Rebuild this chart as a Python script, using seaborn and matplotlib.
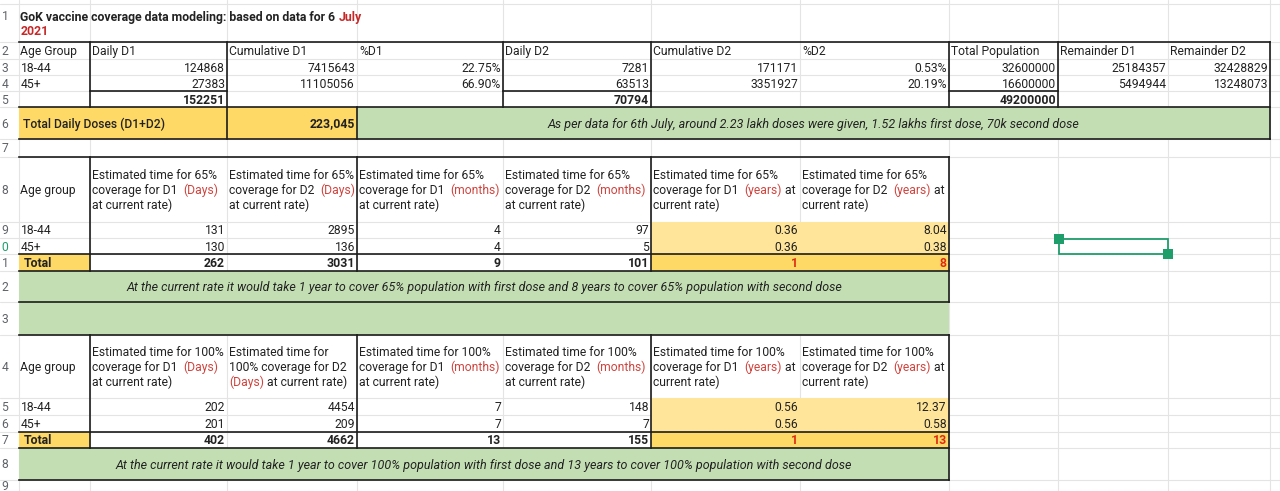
import matplotlib
matplotlib.use("Agg")
import matplotlib.pyplot as plt
from matplotlib.patches import Rectangle
import seaborn as sns

# ------------------------------------------------------------------ data
title_main = "GoK vaccine coverage data modeling: based on data for 6 "
title_month = "July"
title_year = "2021"

table1_headers = ["Age Group", "Daily D1", "Cumulative D1", "%D1", "Daily D2",
                  "Cumulative D2", "%D2", "Total Population", "Remainder D1", "Remainder D2"]
age_groups = ["18-44", "45+"]
daily_d1 = [124868, 27383]
cumulative_d1 = [7415643, 11105056]
pct_d1 = [22.75, 66.90]
daily_d2 = [7281, 63513]
cumulative_d2 = [171171, 3351927]
pct_d2 = [0.53, 20.19]
total_population = [32600000, 16600000]
remainder_d1 = [25184357, 5494944]
remainder_d2 = [32428829, 13248073]
daily_d1_total = 152251
daily_d2_total = 70794
population_total = 49200000
total_daily_label = "Total Daily Doses (D1+D2)"
total_daily_doses = "223,045"
note_daily = "As per data for 6th July, around 2.23 lakh doses were given, 1.52 lakhs first dose, 70k second dose"

group_label = "Age group"
total_label = "Total"

days_d1_65 = [131, 130]
days_d2_65 = [2895, 136]
months_d1_65 = [4, 4]
months_d2_65 = [97, 5]
years_d1_65 = [0.36, 0.36]
years_d2_65 = [8.04, 0.38]
totals_65 = [262, 3031, 9, 101, 1, 8]
note_65 = ("At the current rate it would take 1 year to cover 65% population with first dose "
           "and 8 years to cover 65% population with second dose")

days_d1_100 = [202, 201]
days_d2_100 = [4454, 209]
months_d1_100 = [7, 7]
months_d2_100 = [148, 7]
years_d1_100 = [0.56, 0.56]
years_d2_100 = [12.37, 0.58]
totals_100 = [402, 4662, 13, 155, 1, 13]
note_100 = ("At the current rate it would take 1 year to cover 100% population with first dose "
            "and 13 years to cover 100% population with second dose")

# header lines: list of lines, each a list of (text, is_red)
headers_65 = [
    [[("Estimated time for 65%", 0)], [("coverage for D1  ", 0), ("(Days)", 1)], [("at current rate)", 0)]],
    [[("Estimated time for 65%", 0)], [("coverage for D2  ", 0), ("(Days)", 1)], [("at current rate)", 0)]],
    [[("Estimated time for 65%", 0)], [("coverage for D1  ", 0), ("(months)", 1)], [("at current rate)", 0)]],
    [[("Estimated time for 65%", 0)], [("coverage for D2  ", 0), ("(months)", 1)], [("at current rate)", 0)]],
    [[("Estimated time for 65%", 0)], [("coverage for D1  ", 0), ("(years)", 1), (" at", 0)], [("current rate)", 0)]],
    [[("Estimated time for 65%", 0)], [("coverage for D2  ", 0), ("(years)", 1), (" at", 0)], [("current rate)", 0)]],
]
headers_100 = [
    [[("Estimated time for 100%", 0)], [("coverage for D1  ", 0), ("(Days)", 1)], [("at current rate)", 0)]],
    [[("Estimated time for", 0)], [("100% coverage for D2", 0)], [("(Days)", 1), (" at current rate)", 0)]],
    [[("Estimated time for 100%", 0)], [("coverage for D1  ", 0), ("(months)", 1)], [("at current rate)", 0)]],
    [[("Estimated time for 100%", 0)], [("coverage for D2  ", 0), ("(months)", 1)], [("at current rate)", 0)]],
    [[("Estimated time for 100%", 0)], [("coverage for D1  ", 0), ("(years)", 1), (" at", 0)], [("current rate)", 0)]],
    [[("Estimated time for 100%", 0)], [("coverage for D2  ", 0), ("(years)", 1), (" at", 0)], [("current rate)", 0)]],
]

# ------------------------------------------------------------------ style
sns.set_theme(style="white")
plt.rcParams['font.family'] = ['Roboto', 'DejaVu Sans']
FS = 8.7          # regular text
FS_B = 8.8        # bold text
FS_I = 9.0        # italic notes
TXT = "#222222"
RED_HDR = "#d0443e"
RED_TOT = "#dd2c12"
RED_TITLE = "#c62828"
GRID = "#e4e4e4"
BORDER = "#1c1c1c"
YELLOW = "#ffd966"
LYELLOW = "#ffe599"
GREEN = "#c3deb3"
SEL = "#1f9e6c"

fig = plt.figure(figsize=(12.8, 4.91), dpi=100)
ax = fig.add_axes([0, 0, 1, 1])
ax.set_xlim(0, 1280)
ax.set_ylim(491, 0)
ax.axis('off')
renderer = fig.canvas.get_renderer()

ORDER = "ABCDEFGHIJKL"
COLS = dict(A=19, B=90, C=227, D=357, E=503, F=651, G=800, H=949, I=1058, J=1168, K=1270, L=1280)
ROWS = {1: 4, 2: 42, 3: 59, 4: 75, 5: 91, 6: 107, 7: 139, 8: 157, 9: 222, 10: 238,
        11: 254, 12: 271, 13: 302, 14: 335, 15: 398, 16: 415, 17: 432, 18: 448, 19: 480, 20: 497}


def cl(c):
    return COLS[c]


def cr(c):
    return COLS[ORDER[ORDER.index(c) + 1]]


def rt(r):
    return ROWS[r]


def rb(r):
    return ROWS[r + 1]


def base(r, dy=0):
    return (rt(r) + rb(r)) / 2 + 4.5 + dy


def size_for(weight, style):
    if style == "italic":
        return FS_I
    if weight == "bold":
        return FS_B
    return FS


def text_w(s, weight="normal"):
    fs = size_for(weight, "normal")
    t1 = ax.text(0, 0, s + "|", fontsize=fs, fontweight=weight)
    w1 = t1.get_window_extent(renderer).width
    t1.remove()
    t2 = ax.text(0, 0, "|", fontsize=fs, fontweight=weight)
    w2 = t2.get_window_extent(renderer).width
    t2.remove()
    return w1 - w2


def rich(x, y, segs, weight="normal"):
    for s, col in segs:
        ax.text(x, y, s, fontsize=size_for(weight, "normal"), color=col, fontweight=weight,
                ha='left', va='baseline', zorder=5)
        x += text_w(s, weight)


def cell(col, row, s, align="left", end=None, weight="normal", style="normal", color=TXT, pad=2):
    end = end or col
    if align == "left":
        x = cl(col) + pad
    elif align == "right":
        x = cr(end) - pad
    else:
        x = (cl(col) + cr(end)) / 2
    ax.text(x, base(row), s, fontsize=size_for(weight, style), ha=align, va='baseline', color=color,
            fontweight=weight, fontstyle=style, zorder=5)


def fill(c1, c2, r1, r2, color):
    ax.add_patch(Rectangle((cl(c1), rt(r1)), cr(c2) - cl(c1), rb(r2) - rt(r1),
                           facecolor=color, edgecolor='none', zorder=2))


def hline(y, x1, x2):
    ax.plot([x1, x2], [y, y], color=BORDER, lw=1.2, zorder=3, solid_capstyle='projecting')


def vline(x, y1, y2):
    ax.plot([x, x], [y1, y2], color=BORDER, lw=1.2, zorder=3, solid_capstyle='projecting')


# gridlines
for x in COLS.values():
    ax.plot([x, x], [0, 491], color=GRID, lw=0.8, zorder=1)
for y in ROWS.values():
    ax.plot([0, 1280], [y, y], color=GRID, lw=0.8, zorder=1)

# row numbers in gutter (only the visible last digit, as in the narrow gutter)
for r in range(1, 20):
    lab = str(r)[-1]
    if r == 1:
        y = base(r, -8)
    elif r == 19:
        y = 490
    else:
        y = base(r)
    ax.text(5, y, lab, fontsize=FS, ha='center', va='baseline',
            color=SEL if r == 10 else "#5f6368", zorder=5)

# fills
fill("A", "B", 6, 6, YELLOW)
fill("C", "C", 6, 6, YELLOW)
fill("D", "J", 6, 6, GREEN)
for top in (8, 14):
    fill("A", "A", top + 3, top + 3, YELLOW)
    fill("F", "G", top + 1, top + 2, LYELLOW)
    fill("F", "G", top + 3, top + 3, YELLOW)
fill("A", "G", 12, 13, GREEN)
fill("A", "G", 18, 18, GREEN)

# borders table 1
hline(rt(2), cl("A"), cr("J"))
hline(rt(6), cl("A"), cr("J"))
hline(rb(6), cl("A"), cr("J"))
for c in ("B", "E", "H"):
    hline(rt(5), cl(c), cr(c))
for c in ("B", "E", "F", "H", "I"):
    vline(cl(c), rt(2), rb(5))
vline(cl("C"), rt(2), rb(6))
vline(cl("D"), rt(6), rb(6))
vline(cr("J"), rt(2), rb(6))

# borders tables 2 and 3
for top in (8, 14):
    tot = top + 3
    note = top + 4
    hline(rt(top), cl("A"), cr("G"))
    hline(rt(tot), cl("A"), cr("G"))
    hline(rb(tot), cl("A"), cr("G"))
    hline(rb(note), cl("A"), cr("G"))
    for c in ("B", "D", "F"):
        vline(cl(c), rt(top), rb(tot))
    vline(cr("G"), rt(top), rb(note))

# title
rich(cl("A") + 1.5, base(1, -7), [(title_main, TXT), (title_month, RED_TITLE)], weight="bold")
rich(cl("A") + 1.5, base(1, 7), [(title_year, RED_TITLE)], weight="bold")

# table 1
for c, h in zip("ABCDEFGHIJ", table1_headers):
    cell(c, 2, h, pad=1.5 if c == "A" else 2)
for i, g in enumerate(age_groups):
    r = 3 + i
    cell("A", r, g, pad=1.5)
    cell("B", r, str(daily_d1[i]), "right")
    cell("C", r, str(cumulative_d1[i]), "right")
    cell("D", r, f"{pct_d1[i]:.2f}%", "right")
    cell("E", r, str(daily_d2[i]), "right")
    cell("F", r, str(cumulative_d2[i]), "right")
    cell("G", r, f"{pct_d2[i]:.2f}%", "right")
    cell("H", r, str(total_population[i]), "right")
    cell("I", r, str(remainder_d1[i]), "right")
    cell("J", r, str(remainder_d2[i]), "right")
cell("B", 5, str(daily_d1_total), "right", weight="bold")
cell("E", 5, str(daily_d2_total), "right", weight="bold")
cell("H", 5, str(population_total), "right", weight="bold")
cell("A", 6, total_daily_label, pad=4, weight="medium")
cell("C", 6, total_daily_doses, "right", weight="bold")
cell("D", 6, note_daily, "center", end="J", style="italic")


def coverage_table(top, headers, cols_vals, totals, note):
    cell("A", top, group_label, pad=1.5)
    for c, hdr in zip("BCDEFG", headers):
        for li, segs in enumerate(hdr):
            rich(cl(c) + 2, base(top, (li - 1) * 15),
                 [(s, RED_HDR if red else TXT) for s, red in segs])
    for i, g in enumerate(age_groups):
        r = top + 1 + i
        cell("A", r, g, pad=1.5)
        for j, (c, vals) in enumerate(zip("BCDEFG", cols_vals)):
            v = vals[i]
            s = f"{v:.2f}" if j >= 4 else str(v)
            cell(c, r, s, "right")
    cell("A", top + 3, total_label, pad=5, weight="bold")
    for j, (c, v) in enumerate(zip("BCDEFG", totals)):
        cell(c, top + 3, str(v), "right", weight="bold", color=RED_TOT if j >= 4 else TXT)
    cell("A", top + 4, note, "center", end="G", style="italic")


coverage_table(8, headers_65,
               [days_d1_65, days_d2_65, months_d1_65, months_d2_65, years_d1_65, years_d2_65],
               totals_65, note_65)
coverage_table(14, headers_100,
               [days_d1_100, days_d2_100, months_d1_100, months_d2_100, years_d1_100, years_d2_100],
               totals_100, note_100)

# selection box on I10
x0, x1 = cl("I") + 1, cr("I")
y0, y1 = rt(10) + 1, rb(10)
ax.add_patch(Rectangle((x0, y0), x1 - x0, y1 - y0, facecolor='none', edgecolor=SEL, lw=1.3, zorder=6))
for hx, hy in ((x0, y0), (x1, y1)):
    ax.add_patch(Rectangle((hx - 5, hy - 5), 10, 10, facecolor=SEL, edgecolor='none', zorder=7))

fig.savefig("out.png", dpi=100, facecolor="white")
